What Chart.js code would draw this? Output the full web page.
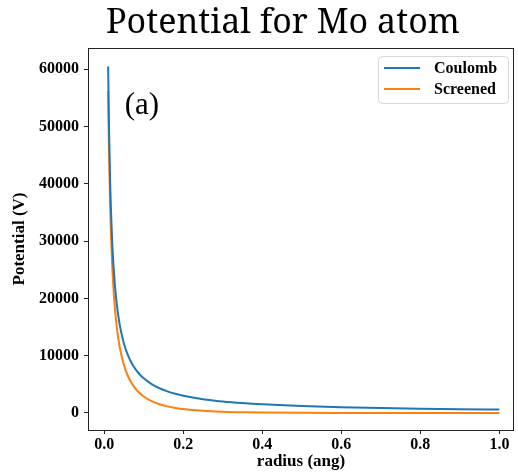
<!DOCTYPE html>
<html>
<head>
<meta charset="utf-8">
<script src="https://cdn.jsdelivr.net/npm/chart.js@4/dist/chart.umd.min.js"></script>
<style>
  html, body { margin: 0; padding: 0; background: #ffffff; }
  #wrap { width: 518px; height: 472px; }
</style>
</head>
<body>
<div id="wrap"><canvas id="c" width="518" height="472"></canvas></div>
<script>
// ---- data ----
const radius = [0.01, 0.012, 0.015, 0.02, 0.025, 0.03, 0.035, 0.04, 0.05, 0.06, 0.07, 0.08, 0.09, 0.1,
  0.12, 0.14, 0.16, 0.18, 0.2, 0.25, 0.3, 0.35, 0.4, 0.5, 0.6, 0.7, 0.8, 0.9, 1.0];
const coulomb = [60480, 50400, 40320, 30240, 24192, 20160, 17280, 15120, 12096, 10080, 8640, 7560, 6720, 6048,
  5040, 4320, 3780, 3360, 3024, 2419, 2016, 1728, 1512, 1210, 1008, 864, 756, 672, 605];
const screened = [56200, 46100, 36080, 26080, 20100, 16140, 13330, 11240, 8350, 6460, 5140, 4180, 3450, 2880,
  2070, 1530, 1160, 890, 690, 380, 220, 130, 80, 30, 12, 5, 2, 1, 0];
const xTicks = [0.0, 0.2, 0.4, 0.6, 0.8, 1.0];
const yTicks = [0, 10000, 20000, 30000, 40000, 50000, 60000];
const seriesNames = ["Coulomb", "Screened"];
const seriesColors = ["#1f77b4", "#ff7f0e"];
const titleText = "Potential for Mo atom";
const xTitle = "radius (ang)";
const yTitle = "Potential (V)";
const panelLabel = "(a)";
const panelLabelAt = [0.052, 52200];

const SERIF = '"Liberation Serif", "Times New Roman", serif';
const TITLE_FONT = '"Noto Serif", "Liberation Serif", serif';

const decorations = {
  id: 'decorations',
  afterDraw(chart) {
    const ctx = chart.ctx;
    const a = chart.chartArea;
    ctx.save();
    // axes frame
    ctx.strokeStyle = '#222222';
    ctx.lineWidth = 1;
    ctx.strokeRect(Math.round(a.left) + 0.5, Math.round(a.top) + 0.5,
      Math.round(a.right - a.left) - 1, Math.round(a.bottom - a.top));
    // title
    ctx.fillStyle = '#000000';
    ctx.font = '34px ' + TITLE_FONT;
    ctx.textAlign = 'center';
    ctx.textBaseline = 'alphabetic';
    ctx.fillText(titleText, 283, 33);
    // panel label
    const xs = chart.scales.x, ys = chart.scales.y;
    ctx.font = '31px ' + SERIF;
    ctx.textAlign = 'left';
    ctx.fillText(panelLabel, xs.getPixelForValue(panelLabelAt[0]), ys.getPixelForValue(panelLabelAt[1]));
    // legend
    const lx = 378.5, ly = 56.5, lw = 130, lh = 47, r = 4;
    ctx.beginPath();
    ctx.moveTo(lx + r, ly);
    ctx.lineTo(lx + lw - r, ly);
    ctx.quadraticCurveTo(lx + lw, ly, lx + lw, ly + r);
    ctx.lineTo(lx + lw, ly + lh - r);
    ctx.quadraticCurveTo(lx + lw, ly + lh, lx + lw - r, ly + lh);
    ctx.lineTo(lx + r, ly + lh);
    ctx.quadraticCurveTo(lx, ly + lh, lx, ly + lh - r);
    ctx.lineTo(lx, ly + r);
    ctx.quadraticCurveTo(lx, ly, lx + r, ly);
    ctx.closePath();
    ctx.fillStyle = 'rgba(255,255,255,0.85)';
    ctx.fill();
    ctx.strokeStyle = '#d6d6d6';
    ctx.lineWidth = 1;
    ctx.stroke();
    const rows = [68, 89];
    chart.data.datasets.forEach((ds, i) => {
      ctx.strokeStyle = ds.borderColor;
      ctx.lineWidth = 2;
      ctx.beginPath();
      ctx.moveTo(384, rows[i]);
      ctx.lineTo(420, rows[i]);
      ctx.stroke();
      ctx.fillStyle = '#000000';
      ctx.font = 'bold 16px ' + SERIF;
      ctx.textAlign = 'left';
      ctx.textBaseline = 'middle';
      ctx.fillText(ds.label, 434, rows[i] + 1);
    });
    ctx.restore();
  }
};

new Chart(document.getElementById('c'), {
  type: 'line',
  data: {
    labels: radius,
    datasets: [
      { label: seriesNames[0], data: radius.map((r, i) => ({ x: r, y: coulomb[i] })),
        borderColor: seriesColors[0], backgroundColor: seriesColors[0], borderWidth: 2,
        pointRadius: 0, cubicInterpolationMode: 'monotone', fill: false },
      { label: seriesNames[1], data: radius.map((r, i) => ({ x: r, y: screened[i] })),
        borderColor: seriesColors[1], backgroundColor: seriesColors[1], borderWidth: 2,
        pointRadius: 0, cubicInterpolationMode: 'monotone', fill: false }
    ]
  },
  options: {
    responsive: false,
    animation: false,
    events: [],
    layout: { padding: { left: 0, top: 48, right: 4, bottom: 0 } },
    plugins: { legend: { display: false }, title: { display: false }, tooltip: { enabled: false } },
    scales: {
      x: {
        type: 'linear',
        min: -0.041, max: 1.037,
        afterBuildTicks(s) { s.ticks = xTicks.map(v => ({ value: v })); },
        afterFit(s) { s.height = 42; },
        grid: { display: true, drawOnChartArea: false, drawTicks: true, tickLength: 4, color: '#222222', tickWidth: 1 },
        border: { display: false },
        ticks: { color: '#000000', padding: 1, maxRotation: 0,
          font: { family: SERIF, size: 16, weight: 'bold' },
          callback: v => Number(v).toFixed(1) },
        title: { display: true, text: xTitle, color: '#000000',
          font: { family: SERIF, size: 17, weight: 'bold' }, padding: { top: 0, bottom: 0 } }
      },
      y: {
        type: 'linear',
        min: -2967, max: 63700,
        afterBuildTicks(s) { s.ticks = yTicks.map(v => ({ value: v })); },
        afterFit(s) { s.width = 88; },
        grid: { display: true, drawOnChartArea: false, drawTicks: true, tickLength: 4, color: '#222222', tickWidth: 1 },
        border: { display: false },
        ticks: { color: '#000000', padding: 5,
          font: { family: SERIF, size: 16, weight: 'bold' },
          callback: v => String(v) },
        title: { display: true, text: yTitle, color: '#000000',
          font: { family: SERIF, size: 17, weight: 'bold' }, padding: { top: 9, bottom: 0 } }
      }
    }
  },
  plugins: [decorations]
});
</script>
</body>
</html>
